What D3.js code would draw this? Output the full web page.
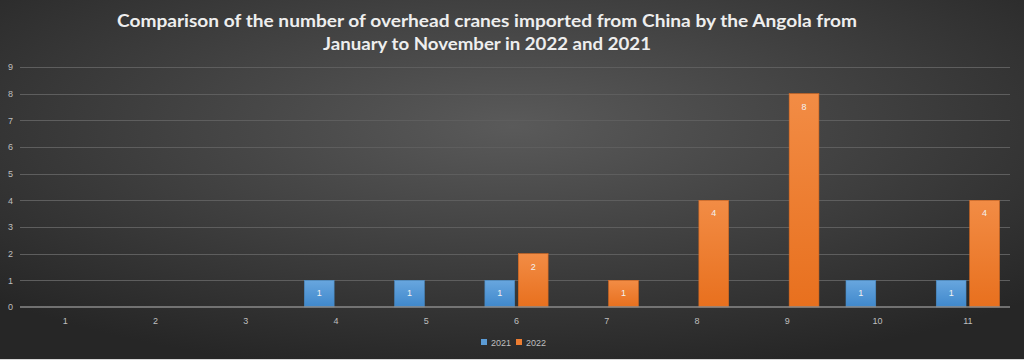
<!DOCTYPE html>
<html><head><meta charset="utf-8">
<script src="https://cdn.jsdelivr.net/npm/d3@7"></script>
<style>html,body{margin:0;padding:0;background:#333;}svg{display:block;}</style>
</head><body>
<svg id="c" width="1024" height="360"></svg>
<script>
const months = ["1","2","3","4","5","6","7","8","9","10","11"];
const series = ["2021","2022"];
const values2021 = [0,0,0,1,1,1,0,0,0,1,1];
const values2022 = [0,0,0,0,0,2,1,4,8,0,4];
const yTicks = [0,1,2,3,4,5,6,7,8,9];
const titleLines = ["Comparison of the number of overhead cranes imported from China by the Angola from","January to November in 2022 and 2021"];
const colors = {"2021":"#5b9bd5","2022":"#ed7d31"};

(function(){
const svg = d3.select("#c");
const W = 1024, H = 360;
const defs = svg.append("defs");
const bg = defs.append("radialGradient").attr("id","bg").attr("cx","50%").attr("cy","35%").attr("r","70%");
bg.append("stop").attr("offset","0%").attr("stop-color","#5a5a5a");
bg.append("stop").attr("offset","100%").attr("stop-color","#262626");
const gb = defs.append("linearGradient").attr("id","g2021").attr("x1",0).attr("y1",0).attr("x2",0).attr("y2",1);
gb.append("stop").attr("offset","0%").attr("stop-color","#68a6de");
gb.append("stop").attr("offset","100%").attr("stop-color","#3f88cc");
const go = defs.append("linearGradient").attr("id","g2022").attr("x1",0).attr("y1",0).attr("x2",0).attr("y2",1);
go.append("stop").attr("offset","0%").attr("stop-color","#f28c45");
go.append("stop").attr("offset","100%").attr("stop-color","#e8701e");

svg.append("rect").attr("width",W).attr("height",H).attr("fill","url(#bg)");
svg.append("line").attr("x1",0).attr("x2",W).attr("y1",359.5).attr("y2",359.5).attr("stroke","#d9d9d9");

const pl = 20, pr = 1013, pt = 67, pb = 307;
const x0 = d3.scaleBand().domain(months).range([pl,pr]).paddingInner(0.3).paddingOuter(0.15);
const x1 = d3.scaleBand().domain(series).range([0,x0.bandwidth()]).paddingInner(0.11);
const y = d3.scaleLinear().domain([0,9]).range([pb,pt]);

svg.append("g").selectAll("line").data(yTicks.filter(d=>d>0)).join("line")
  .attr("x1",pl).attr("x2",1010).attr("y1",d=>Math.round(y(d))+0.5).attr("y2",d=>Math.round(y(d))+0.5)
  .attr("stroke","#5e5e5e").attr("stroke-width",1);

const yAxis = d3.axisLeft(y).tickValues(yTicks).tickSize(0).tickPadding(0);
const ya = svg.append("g").attr("transform",`translate(13,0)`).call(yAxis);
ya.select(".domain").remove();
ya.selectAll("text").attr("fill","#bfbfbf").attr("font-family","Liberation Sans, Arial, sans-serif").attr("font-size",9).attr("text-anchor","end");

const data = months.map((m,i)=>({m, vals:[{s:"2021",v:values2021[i]},{s:"2022",v:values2022[i]}]}));
const grp = svg.append("g").selectAll("g").data(data).join("g").attr("transform",d=>`translate(${x0(d.m)},0)`);
const bars = grp.selectAll("g").data(d=>d.vals.filter(e=>e.v>0)).join("g");
bars.append("rect").attr("x",d=>x1(d.s)).attr("width",x1.bandwidth())
  .attr("y",d=>y(d.v)).attr("height",d=>y(0)-y(d.v))
  .attr("fill",d=>`url(#g${d.s})`).attr("stroke",d=>d.s==="2021"?"#4a8cc6":"#d9691f").attr("stroke-width",0.6);
bars.append("text").attr("x",d=>x1(d.s)+x1.bandwidth()/2).attr("y",d=>y(d.v)+16)
  .attr("text-anchor","middle").attr("fill","#f2f2f2").attr("font-family","Liberation Sans, Arial, sans-serif").attr("font-size",9)
  .text(d=>d.v);

const xAxis = d3.axisBottom(x0).tickSize(0).tickPadding(11);
const xa = svg.append("g").attr("transform",`translate(0,${pb})`).call(xAxis);
xa.select(".domain").attr("stroke","#8a8a8a").attr("stroke-width",1.5).attr("d",`M${pl},0H1010`);
xa.selectAll("text").attr("fill","#bfbfbf").attr("font-family","Liberation Sans, Arial, sans-serif").attr("font-size",9);

svg.append("g").selectAll("text").data(titleLines).join("text")
  .attr("x",487).attr("y",(d,i)=>27+i*23).attr("text-anchor","middle")
  .attr("fill","#eeeeee").attr("font-family","Lato, 'Open Sans', sans-serif").attr("font-weight","bold").attr("font-size",16.5)
  .attr("textLength",(d,i)=>i===0?740:328).attr("lengthAdjust","spacingAndGlyphs")
  .text(d=>d);

const lg = svg.append("g").attr("transform","translate(481,339)");
const li = lg.selectAll("g").data(series).join("g").attr("transform",(d,i)=>`translate(${i*35},0)`);
li.append("rect").attr("width",6).attr("height",6).attr("fill",d=>colors[d]);
li.append("text").attr("x",10).attr("y",6.5).attr("fill","#bfbfbf").attr("font-family","Liberation Sans, Arial, sans-serif").attr("font-size",9).text(d=>d);
})();
</script>
</body></html>
